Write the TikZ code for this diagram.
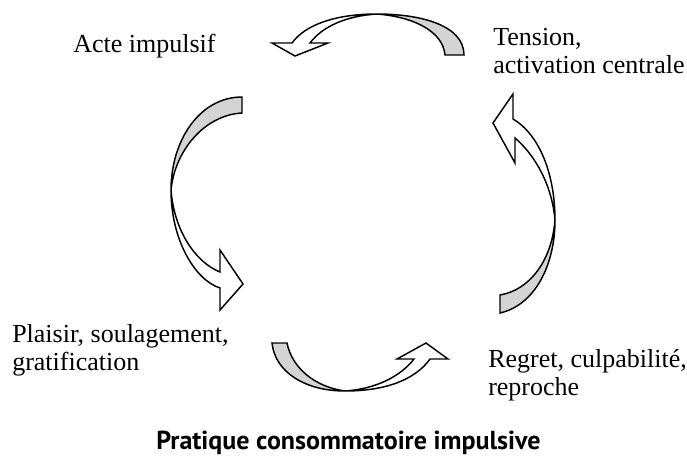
\documentclass[tikz,border=0pt]{standalone}
\usepackage{fontspec}
\setmainfont{Liberation Serif}
\newfontfamily\titlefont{PT Sans}
\definecolor{ribbongray}{RGB}{212,212,212}
\tikzset{
  ribbonline/.style={draw=black, line width=1.1pt, line join=miter},
  backface/.style={ribbonline, fill=ribbongray},
  frontface/.style={ribbonline, fill=white},
  stagetext/.style={anchor=base west, inner sep=0pt, align=left,
    font=\fontsize{19.5}{20.5}\selectfont}
}
\begin{document}
\begin{tikzpicture}[x=0.75pt,y=-0.75pt]
\useasboundingbox (0,0) rectangle (687,457);
% labels (base = last line)
\node[stagetext] (acte) at (73,52) {Acte impulsif};
\node[stagetext] (tension) at (493,73) {Tension,\\activation centrale};
\node[stagetext] (plaisir) at (12,370) {Plaisir, soulagement,\\gratification};
\node[stagetext] (regret) at (488,395) {Regret, culpabilit\'e,\\reproche};
\node[anchor=base west, inner sep=0pt, font=\titlefont\bfseries\fontsize{19.5}{22}\selectfont] (titre) at (156,449) {Pratique consommatoire impulsive};
% top arrow
\path[backface] (464,55) .. controls (464,25) and (420,14) .. (377,14)
  .. controls (415,17) and (443,32) .. (445,55) -- cycle;
\path[frontface] (377,14) .. controls (335,14) and (305,25) .. (292,43)
  -- (272,43) -- (295,56) -- (328,43) -- (310,43)
  .. controls (322,27) and (345,16) .. (377,14) -- cycle;
% left arrow
\path[backface] (242,97) .. controls (200,97) and (171,140) .. (171,190)
  .. controls (175,150) and (205,115) .. (242,113) -- cycle;
\path[frontface] (171,190) .. controls (171,240) and (195,280) .. (220,288)
  -- (220,310) -- (243,284) -- (220,250) -- (220,272)
  .. controls (195,262) and (174,230) .. (171,190) -- cycle;
% right arrow
\path[backface] (500,313) .. controls (535,305) and (555,265) .. (555,220)
  .. controls (552,260) and (530,290) .. (500,295) -- cycle;
\path[frontface] (555,220) .. controls (555,175) and (540,135) .. (513,119)
  -- (513,94) -- (493,123) -- (515,163) -- (515,138)
  .. controls (535,155) and (552,185) .. (555,220) -- cycle;
% bottom arrow
\path[backface] (272,343) .. controls (275,372) and (305,391) .. (345,391)
  .. controls (315,387) and (292,368) .. (287,343) -- cycle;
\path[frontface] (345,391) .. controls (385,391) and (415,380) .. (430,359)
  -- (448,359) -- (426,343) -- (397,359) -- (414,359)
  .. controls (400,377) and (375,389) .. (345,391) -- cycle;
\end{tikzpicture}
\end{document}
